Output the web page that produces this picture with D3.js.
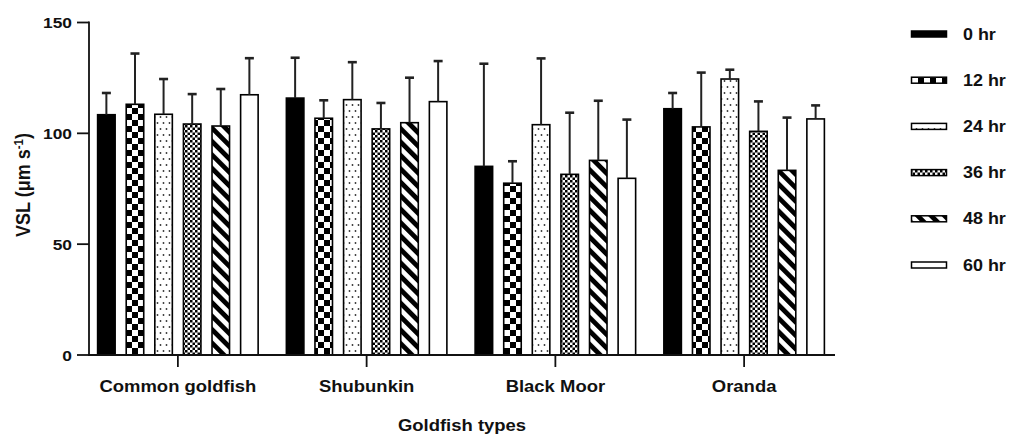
<!DOCTYPE html>
<html><head><meta charset="utf-8">
<script src="https://cdn.jsdelivr.net/npm/d3@7"></script>
<style>
body{margin:0;background:#fff;}
svg text{font-family:"Liberation Sans",Arial,sans-serif;font-weight:bold;fill:#111;}
</style></head>
<body><svg id="c" width="1011" height="435"></svg>
<script>
const categories = ["Common goldfish","Shubunkin","Black Moor","Oranda"];
const series = ["0 hr","12 hr","24 hr","36 hr","48 hr","60 hr"];
const means = {
  "Common goldfish":[108.4,113.1,108.6,104.2,103.3,117.4],
  "Shubunkin":[115.9,106.8,115.2,102.0,104.8,114.3],
  "Black Moor":[85.1,77.5,103.9,81.5,87.8,79.7],
  "Oranda":[111.1,102.9,124.5,100.9,83.3,106.5]
};
const sds = {
  "Common goldfish":[9.8,22.9,15.9,13.5,16.7,16.5],
  "Shubunkin":[18.2,8.1,16.9,11.7,20.3,18.3],
  "Black Moor":[46.3,9.9,29.9,27.8,26.9,26.5],
  "Oranda":[7.1,24.5,4.2,13.5,23.8,6.1]
};
const yTicks = [0,50,100,150];
const fills = ["#000","url(#p12)","url(#p24)","url(#p36)","url(#p48)","#fff"];
const SX = 1.12;

const svg = d3.select("#c");
const defs = svg.append("defs");
// patterns
let p = defs.append("pattern").attr("id","p12").attr("patternUnits","userSpaceOnUse").attr("width",12).attr("height",12);
p.append("rect").attr("width",12).attr("height",12).attr("fill","#fff");
p.append("rect").attr("width",6).attr("height",6).attr("fill","#000");
p.append("rect").attr("x",6).attr("y",6).attr("width",6).attr("height",6).attr("fill","#000");
p = defs.append("pattern").attr("id","p24").attr("patternUnits","userSpaceOnUse").attr("width",6).attr("height",12);
p.append("rect").attr("width",6).attr("height",12).attr("fill","#fff");
p.append("circle").attr("cx",1.5).attr("cy",3).attr("r",0.9).attr("fill","#333");
p.append("circle").attr("cx",4.5).attr("cy",9).attr("r",0.9).attr("fill","#333");
p = defs.append("pattern").attr("id","p36").attr("patternUnits","userSpaceOnUse").attr("width",5).attr("height",5);
p.append("rect").attr("width",5).attr("height",5).attr("fill","#fff");
p.append("rect").attr("width",2.5).attr("height",2.5).attr("fill","#000");
p.append("rect").attr("x",2.5).attr("y",2.5).attr("width",2.5).attr("height",2.5).attr("fill","#000");
p = defs.append("pattern").attr("id","p48").attr("patternUnits","userSpaceOnUse").attr("width",9.5).attr("height",9.5).attr("patternTransform","rotate(-45)");
p.append("rect").attr("width",9.5).attr("height",9.5).attr("fill","#fff");
p.append("rect").attr("width",4.8).attr("height",9.5).attr("fill","#000");

const x0 = d3.scaleBand().domain(categories).range([83.5,838.5]);
const x1 = d3.scaleBand().domain(series).range([-85.8,85.8]).paddingInner(0.335).paddingOuter(0.1675);
const y = d3.scaleLinear().domain([0,150]).range([355,22.5]);

function stext(g, x, yy, txt, anchor, size){
  return g.append("text").attr("transform",`translate(${x},${yy}) scale(${SX},1)`)
    .attr("text-anchor",anchor).style("font-size",size+"px").text(txt);
}

// bars
const gBars = svg.append("g");
categories.forEach(c=>{
  series.forEach((s,i)=>{
    const cx = x0(c)+x0.bandwidth()/2 + x1(s);
    const v = means[c][i];
    gBars.append("rect").attr("x",cx+0.75).attr("y",y(v)).attr("width",x1.bandwidth()-1.5).attr("height",y(0)-y(v))
      .attr("fill",fills[i]).attr("stroke","#000").attr("stroke-width",1.6);
  });
});
// error bars
categories.forEach(c=>{
  series.forEach((s,i)=>{
    const cx = x0(c)+x0.bandwidth()/2 + x1(s) + x1.bandwidth()/2;
    const v = means[c][i], e = v+sds[c][i];
    gBars.append("line").attr("x1",cx).attr("x2",cx).attr("y1",y(v)).attr("y2",y(e)).attr("stroke","#222").attr("stroke-width",2);
    gBars.append("line").attr("x1",cx-4.5).attr("x2",cx+4.5).attr("y1",y(e)).attr("y2",y(e)).attr("stroke","#222").attr("stroke-width",2.6);
  });
});

// y axis
const ga = svg.append("g");
ga.append("line").attr("x1",89).attr("x2",89).attr("y1",y(150)-1).attr("y2",y(0)+1).attr("stroke","#111").attr("stroke-width",1.8);
yTicks.forEach(t=>{
  ga.append("line").attr("x1",77).attr("x2",89).attr("y1",y(t)).attr("y2",y(t)).attr("stroke","#111").attr("stroke-width",1.8);
  stext(ga,72,y(t)+5.5,String(t),"end",15.5);
});
// x axis
ga.append("line").attr("x1",88).attr("x2",835).attr("y1",y(0)).attr("y2",y(0)).attr("stroke","#111").attr("stroke-width",1.8);
categories.forEach(c=>{
  const cx = x0(c)+x0.bandwidth()/2;
  ga.append("line").attr("x1",cx).attr("x2",cx).attr("y1",y(0)).attr("y2",y(0)+12).attr("stroke","#111").attr("stroke-width",1.8);
  stext(ga,cx,392,c,"middle",16.5);
});
stext(ga,462,431,"Goldfish types","middle",16.5);

// y label
const yl = svg.append("text").attr("transform","translate(30,185) rotate(-90) scale(1,1.12)").attr("text-anchor","middle").style("font-size","18px");
yl.append("tspan").text("VSL (μm s");
yl.append("tspan").attr("dy",-6).style("font-size","11.5px").text("-1");
yl.append("tspan").attr("dy",6).text(")");

// legend
const lg = svg.append("g");
series.forEach((s,i)=>{
  const cy = 34 + i*46.2;
  lg.append("rect").attr("x",911.5).attr("y",cy-3).attr("width",35).attr("height",6)
    .attr("fill",fills[i]).attr("stroke","#000").attr("stroke-width",1.5);
  stext(lg,963,cy+5.5,s,"start",16);
});
</script></body></html>
